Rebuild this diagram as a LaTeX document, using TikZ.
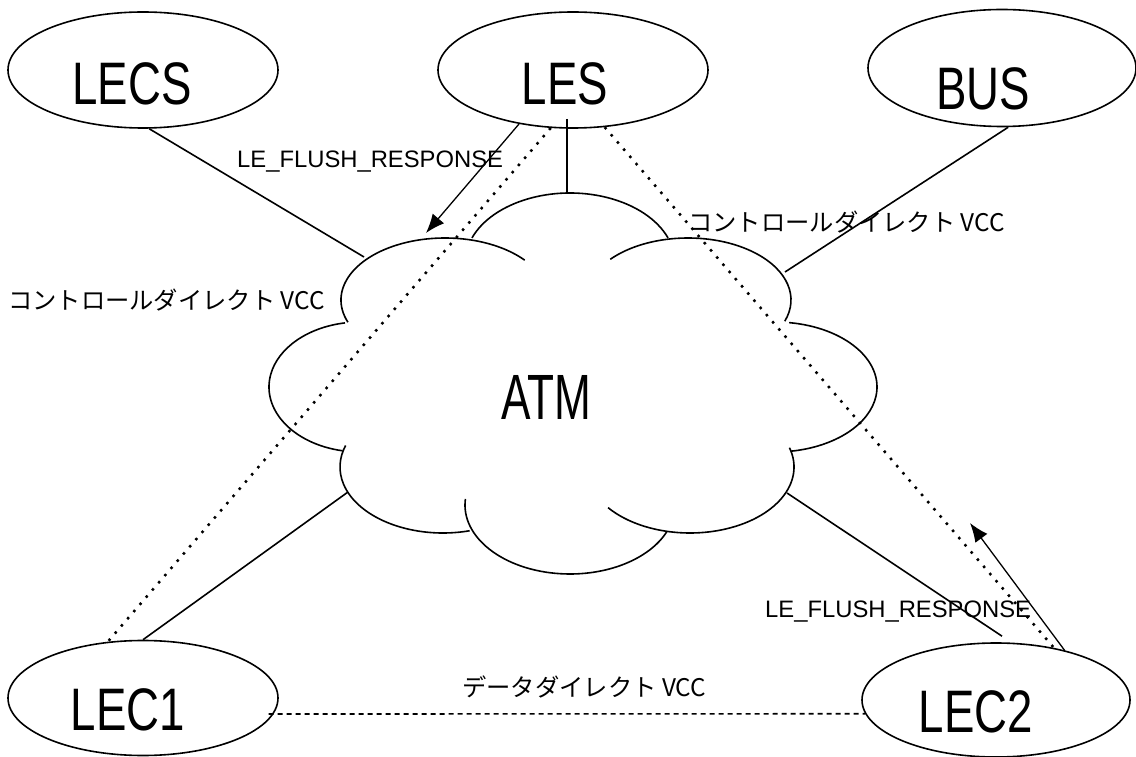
\documentclass[tikz,border=0pt]{standalone}
\usepackage{fontspec}
\setmainfont{Liberation Sans}
\newfontfamily\bigfont[FakeStretch=0.76]{Liberation Sans}
\newfontfamily\atmfont[FakeStretch=0.69]{Liberation Sans}
\newfontfamily\jpfont{Noto Sans CJK JP}
\usetikzlibrary{shapes.geometric,arrows.meta}
\tikzset{
  ent/.style={shape=ellipse,draw,line width=1.6pt,inner sep=0pt,minimum width=270pt,minimum height=116pt},
  bigtxt/.style={anchor=base,inner sep=0pt,font=\bigfont\fontsize{60}{60}\selectfont},
  lbl/.style={inner sep=0pt,font=\fontsize{23.8}{24}\selectfont},
  jlbl/.style={inner sep=0pt,anchor=west,font=\jpfont\fontsize{24.3}{25}\selectfont},
  link/.style={line width=1.6pt},
  vcc/.style={line width=2.5pt,dash pattern=on 2.5pt off 7pt},
  hvcc/.style={line width=1.6pt,dash pattern=on 5pt off 4pt},
  msg/.style={line width=1.3pt,-{Latex[length=19pt,width=15pt]}},
  lobe/.style={line width=1.6pt}
}
\begin{document}
\begin{tikzpicture}[x=1pt,y=1pt]
\useasboundingbox (0,0) rectangle (1136,756);
% entities
\node[ent] (LECS) at (143,686) {};
\node[ent] (LES) at (573,686) {};
\node[ent,minimum width=268pt,minimum height=117pt] (BUS) at (1002,688) {};
\node[ent,minimum height=115pt] (LEC1) at (143,58) {};
\node[ent,minimum width=268pt,minimum height=114pt] (LEC2) at (996,56) {};
\node[bigtxt] (tLECS) at (132,651) {LECS};
\node[bigtxt] (tLES) at (565,651) {LES};
\node[bigtxt] (tBUS) at (983,646) {BUS};
\node[bigtxt] (tLEC1) at (128,26) {LEC1};
\node[bigtxt] (tLEC2) at (976,24) {LEC2};
% cloud
\draw[lobe] (445,456) ++(201:104 and 62) arc[start angle=201,end angle=40,x radius=104,y radius=62];
\draw[lobe] (570,493) ++(159:105 and 70) arc[start angle=159,end angle=21,x radius=105,y radius=70];
\draw[lobe] (688,456) ++(139:103 and 62) arc[start angle=139,end angle=-20,x radius=103,y radius=62];
\draw[lobe] (775,369) ++(82:102 and 65) arc[start angle=82,end angle=-81,x radius=102,y radius=65];
\draw[lobe] (690,289) ++(17:104 and 66) arc[start angle=17,end angle=-142,x radius=104,y radius=66];
\draw[lobe] (570,251) ++(175:105 and 69) arc[start angle=175,end angle=337,x radius=105,y radius=69];
\draw[lobe] (443,289) ++(-75:103 and 66) arc[start angle=-75,end angle=-199,x radius=103,y radius=66];
\draw[lobe] (360,369) ++(259:91 and 65) arc[start angle=259,end angle=99.5,x radius=91,y radius=65];
\node[anchor=base,inner sep=0pt,font=\atmfont\fontsize{64}{64}\selectfont] (ATM) at (546,336) {ATM};
% cloud attachment points
\coordinate (cNW) at (364,499);
\coordinate (cN) at (567,563);
\coordinate (cNE) at (785,484);
\coordinate (cSW) at (348,264);
\coordinate (cSE) at (787,263);
\coordinate (tipA) at (426,523);
\coordinate (tipB) at (970,233);
% physical links
\draw[link] (LECS.-84) -- (cNW);
\draw[link] ([shift={(-6pt,10pt)}]LES.south) -- (cN);
\draw[link] (BUS.-84) -- (cNE);
\draw[link] (LEC1.north) -- (cSW);
\draw[link] (cSE) -- ([shift={(6pt,6pt)}]LEC2.north);
% control direct VCCs
\draw[vcc] (LES.249) -- (LEC1.122);
\draw[vcc] (LES.-61.3) -- (LEC2.42.8);
% data direct VCC
\draw[hvcc] ([xshift=-5pt]LEC1.-7.5) -- (LEC2.186.6);
% flush responses
\draw[msg] (LES.225.5) -- (tipA);
\draw[msg] (LEC2.36) -- (tipB);
% labels
\node[lbl,anchor=base west] (l1) at (237,588) {LE\_FLUSH\_RESPONSE};
\node[lbl,anchor=base west] (l2) at (765,139) {LE\_FLUSH\_RESPONSE};
\node[jlbl] (j1) at (8,456) {コントロールダイレクト VCC};
\node[jlbl] (j2) at (688,534) {コントロールダイレクト VCC};
\node[jlbl] (j3) at (462,69) {データダイレクト VCC};
\end{tikzpicture}
\end{document}
